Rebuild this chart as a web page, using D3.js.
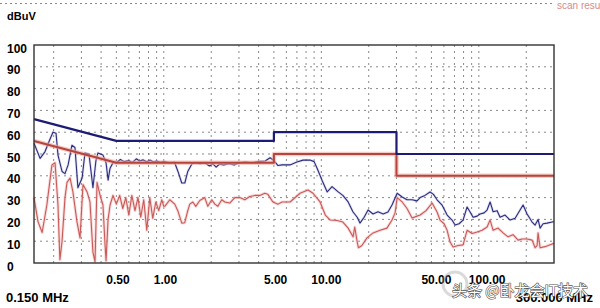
<!DOCTYPE html>
<html lang="en">
  <head>
    <meta charset="utf-8" />
    <title>Conducted emission scan</title>
    <script src="https://d3js.org/d3.v7.min.js"></script>
    <style>
      body { margin: 0; background: #fff; }
      svg text { font-family: "Liberation Sans", Arial, sans-serif; }
    </style>
  </head>
  <body>
    <div id="container"></div>
    <script>
      var width = 600;
      var height = 308;

      // limit lines (MHz, dBuV)
      var qpLimitMHz = [0.15, 0.5, 5, 5, 30, 30, 300];
      var qpLimitDb = [66, 56, 56, 60, 60, 50, 50];
      var avLimitMHz = [0.15, 0.5, 5, 5, 30, 30, 300];
      var avLimitDb = [56, 46, 46, 50, 50, 40, 40];

      // peak trace (blue)
      var peakMHz = [0.150, 0.164, 0.176, 0.190, 0.198, 0.207, 0.213, 0.226, 0.236, 0.247, 0.261, 0.273, 0.285, 0.303,
        0.316, 0.335, 0.355, 0.371, 0.382, 0.411, 0.430, 0.443, 0.456, 0.476,
        0.50, 0.53, 0.56, 0.60, 0.63, 0.67, 0.70, 0.74, 0.78, 0.82, 0.86, 0.90, 0.95, 1.0,
        1.09, 1.17, 1.23, 1.30, 1.36, 1.42, 1.51, 1.6, 1.7, 1.82, 1.95, 2.05, 2.15, 2.25, 2.4, 2.6, 2.8, 3.0,
        3.3, 3.6, 4.0, 4.4, 4.73, 5.0, 5.31, 5.63, 6.33, 7.0, 7.66, 8.48, 9.0, 9.40, 10.1, 10.9, 11.7, 12.8,
        13.7, 14.8, 15.9, 16.9, 17.6, 18.7, 19.8, 21.3, 22.9, 24.7, 26.5, 28.1, 30.3, 32.6, 35.0, 37.7, 40.5,
        42.4, 45.5, 49.0, 51.5, 54.3, 58.4, 62.9, 67.6, 70.7, 74.9, 79.4, 84.2, 88.0, 91.9, 97.5, 101.8, 108,
        112.8, 117.9, 123.2, 130.6, 136.4, 146.7, 157.9, 169.9, 182.7, 190.9, 202.4, 217.8, 227.6, 237.7,
        244.8, 255.8, 271.2, 291.8, 300];
      var peakDb = [54.9, 48, 51, 57, 60, 59.5, 49.5, 42, 41, 45, 54, 53, 34.5, 39,
        50.5, 50, 34.5, 47, 50.5, 49.5, 46, 38, 43.5, 46,
        46, 47.5, 46.5, 47, 46, 47.8, 46.8, 47.3, 46.5, 47.2, 46.3, 46.8, 46.2, 46.5,
        46, 46.2, 42, 36.7, 36.7, 42, 45.5, 46, 45.5, 46, 44.5, 45.5, 44, 45.3, 45, 45.5, 45, 46,
        46.3, 46, 46.5, 46.8, 48.3, 47, 44.7, 45, 45, 46.3, 47.2, 47.2, 46.5, 43.5, 38, 32.6, 35, 32.6,
        31, 28, 23.4, 21, 18.3, 21, 24.3, 22.5, 23.5, 22.5, 23.4, 26.6, 32, 30.3, 29, 29, 28.5,
        30, 31, 32.6, 31.5, 29, 26.6, 22, 19.7, 17.4, 18, 19.7, 25.7, 23.4, 21, 21.5, 22.5, 23,
        24.3, 28, 23.5, 24, 21, 22, 19.7, 20.5, 24.3, 26.6, 22.5, 18.8, 17.4, 20,
        16, 18, 18.3, 18.8, 19];

      // average trace (red)
      var avgMHz = [0.150, 0.159, 0.169, 0.181, 0.195, 0.204, 0.213, 0.219, 0.226, 0.236, 0.243, 0.254, 0.265,
        0.281, 0.294, 0.307, 0.326, 0.340, 0.355, 0.366, 0.377, 0.394, 0.411, 0.424, 0.430, 0.443, 0.456, 0.476,
        0.50, 0.525, 0.549, 0.574, 0.60, 0.627, 0.656, 0.686, 0.714, 0.746, 0.78, 0.815, 0.851, 0.89, 0.929,
        0.971, 1.0, 1.015, 1.092, 1.174, 1.227, 1.301, 1.359, 1.420, 1.462, 1.528, 1.597, 1.693, 1.820, 1.903,
        2.016, 2.108, 2.203, 2.334, 2.440, 2.623, 2.823, 3.038, 3.267, 3.515, 3.782, 4.069, 4.378, 4.580, 4.93,
        5.31, 5.63, 6.33, 7.33, 8.24, 8.86, 9.82, 10.6, 11.4, 12.6, 13.7, 14.8, 15.9, 16.3, 16.9, 17.2, 18.1,
        19.5, 21.3, 23.6, 26.1, 28.1, 29.4, 30.3, 32.6, 35.0, 37.7, 40.5, 42.4, 46.2, 50.5, 54.3, 56.7, 60.2,
        62.9, 65.7, 68.6, 73.8, 79.4, 84.2, 90.6, 97.5, 104.9, 112.8, 117.9, 123.2, 132.5, 142.5, 153.3, 164.9,
        177.5, 188.1, 202.4, 217.8, 227.6, 234.3, 237.7, 244.8, 263.3, 291.8, 300];
      var avgDb = [30, 19, 14, 26.6, 45, 46, 26.6, 1.5, 10, 30, 37, 39, 32.6,
        19, 11.5, 36, 32.6, 28, 5, 0.5, 37, 31, 26.6, 8, 1, 20, 26.6, 31,
        27, 31, 25, 30, 22, 31, 24, 30, 21, 29, 15, 30, 20.5, 28, 24,
        29, 26, 26, 29, 27, 24, 18.3, 18.5, 24, 27, 28, 26, 28.7, 30, 26,
        29, 27, 26, 29, 28, 27.5, 30, 30, 29, 30.5, 31, 31, 32, 31.5, 28,
        27, 28, 28, 32, 33.5, 32, 28, 22, 19.7, 19.5, 18.8, 16, 12, 16.5, 9.6, 7, 8,
        11.5, 13.8, 15, 16, 19.7, 23, 30, 28, 25, 20.6, 21.5, 22, 24, 27.5, 23.4, 19.7, 18,
        15, 9.6, 7.3, 8, 8.3, 15, 13.5, 14.2, 15, 16.5, 19.7, 15, 16, 13.8, 12, 13,
        10.5, 11, 11, 10.5, 7, 8, 13.8, 7, 7.5, 8.7, 9];

      var yTicks = [0, 10, 20, 30, 40, 50, 60, 70, 80, 90, 100];
      var xLabelMHz = [0.5, 1, 5, 10, 50, 100];
      var xLabelText = ["0.50", "1.00", "5.00", "10.00", "50.00", "100.00"];

      var x = d3.scaleLog().domain([0.15, 300]).range([34, 554]);
      var y = d3.scaleLinear().domain([0, 100]).range([263, 45]);

      var svg = d3
        .select("#container")
        .append("svg")
        .attr("width", width)
        .attr("height", height);

      // dotted line at the very top
      svg.append("line")
        .attr("x1", 0).attr("x2", 552)
        .attr("y1", 3.5).attr("y2", 3.5)
        .style("stroke", "#888")
        .style("stroke-width", 1)
        .style("stroke-dasharray", "2,3");

      svg.append("text")
        .attr("x", 557).attr("y", 9)
        .style("font-size", "10px")
        .style("fill", "#d98a8a")
        .text("scan result");

      svg.append("text")
        .attr("x", 7).attr("y", 19.5)
        .style("font-size", "11px")
        .style("font-weight", "bold")
        .text("dBuV");

      // grid
      var vLines = x.ticks().filter(function (v) { return v > 0.151 && v < 299; });
      svg.append("g")
        .selectAll("line")
        .data(vLines)
        .enter()
        .append("line")
        .attr("x1", function (d) { return x(d); })
        .attr("x2", function (d) { return x(d); })
        .attr("y1", y(100))
        .attr("y2", y(0))
        .style("stroke", "#8a8a8a")
        .style("stroke-width", 1)
        .style("stroke-dasharray", "2,4");

      svg.append("g")
        .selectAll("line")
        .data(yTicks.filter(function (v) { return v > 0 && v < 100; }))
        .enter()
        .append("line")
        .attr("x1", x(0.15))
        .attr("x2", x(300))
        .attr("y1", function (d) { return y(d); })
        .attr("y2", function (d) { return y(d); })
        .style("stroke", "#8a8a8a")
        .style("stroke-width", 1)
        .style("stroke-dasharray", "2,4");

      // y labels
      svg.append("g")
        .selectAll("text")
        .data(yTicks)
        .enter()
        .append("text")
        .attr("x", 7)
        .attr("y", function (d) { return y(d) + 7.5; })
        .style("font-size", "12px")
        .style("font-weight", "bold")
        .text(function (d) { return d; });

      // x labels
      svg.append("g")
        .selectAll("text")
        .data(xLabelMHz)
        .enter()
        .append("text")
        .attr("x", function (d) { return x(d) - 10; })
        .attr("y", 284)
        .style("font-size", "12px")
        .style("font-weight", "bold")
        .text(function (d, i) { return xLabelText[i]; });

      svg.append("text")
        .attr("x", 6).attr("y", 302)
        .style("font-size", "13px")
        .style("font-weight", "bold")
        .text("0.150 MHz");

      svg.append("text")
        .attr("x", 593).attr("y", 302)
        .attr("text-anchor", "end")
        .style("font-size", "13px")
        .style("font-weight", "bold")
        .text("300.000 MHz");

      var line = d3.line()
        .x(function (d) { return x(d[0]); })
        .y(function (d) { return y(d[1]); });

      function pairs(f, v) {
        return f.map(function (d, i) { return [d, v[i]]; });
      }

      function drawLine(data, color, w, halo, haloW) {
        if (halo) {
          svg.append("path")
            .datum(data)
            .attr("d", line)
            .style("fill", "none")
            .style("stroke", halo)
            .style("stroke-width", haloW)
            .style("stroke-linejoin", "round");
        }
        svg.append("path")
          .datum(data)
          .attr("d", line)
          .style("fill", "none")
          .style("stroke", color)
          .style("stroke-width", w)
          .style("stroke-linejoin", "round");
      }

      drawLine(pairs(avgMHz, avgDb), "#c85a58", 1.1, "rgba(240,170,170,0.45)", 3);
      drawLine(pairs(peakMHz, peakDb), "#2c2c7c", 1.1, "rgba(160,160,220,0.35)", 2.6);
      drawLine(pairs(avLimitMHz, avLimitDb), "#b4443c", 2, "rgba(240,170,160,0.6)", 4.5);
      drawLine(pairs(qpLimitMHz, qpLimitDb), "#1c1c74", 2.2, null, 0);

      // frame
      svg.append("rect")
        .attr("x", x(0.15))
        .attr("y", y(100))
        .attr("width", x(300) - x(0.15))
        .attr("height", y(0) - y(100))
        .style("fill", "none")
        .style("stroke", "#333")
        .style("stroke-width", 1.4);

      // watermark
      svg.append("circle")
        .attr("cx", 455).attr("cy", 284).attr("r", 12)
        .style("fill", "none")
        .style("stroke", "rgba(150,150,150,0.35)")
        .style("stroke-width", 3);

      svg.append("text")
        .attr("x", 452).attr("y", 296)
        .style("font-family", "'Noto Sans CJK SC', sans-serif")
        .style("font-size", "15px")
        .style("fill", "#fff")
        .style("stroke", "#555")
        .style("stroke-width", 1.2)
        .style("paint-order", "stroke")
        .text("头条 @卧龙会IT技术");
    </script>
  </body>
</html>
